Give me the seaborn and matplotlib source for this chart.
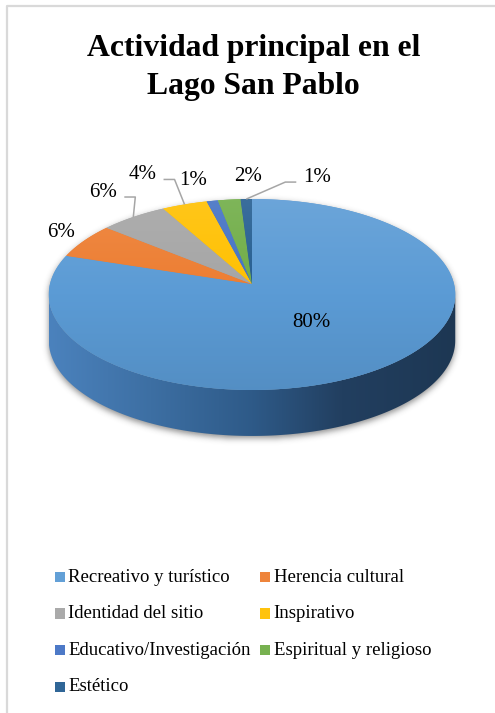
import numpy as np
import matplotlib
matplotlib.use("Agg")
import matplotlib.pyplot as plt
import seaborn as sns
from matplotlib.patches import Polygon, Rectangle
from matplotlib.path import Path
from matplotlib.colors import to_rgb

# ---- data -------------------------------------------------------------
categories = [
    "Recreativo y turístico",
    "Herencia cultural",
    "Identidad del sitio",
    "Inspirativo",
    "Educativo/Investigación",
    "Espiritual y religioso",
    "Estético",
]
values = [80, 6, 6, 4, 1, 2, 1]
pct_labels = ["80%", "6%", "6%", "4%", "1%", "2%", "1%"]
slice_colors = ["#5B9BD5", "#ED7D31", "#A5A5A5", "#FFC000",
                "#4472C4", "#70AD47", "#255E91"]
title_lines = ["Actividad principal en el", "Lago San Pablo"]

# ---- style --------------------------------------------------------------
sns.set_theme(style="white")
palette = sns.color_palette(slice_colors)
SERIF = ["Liberation Serif", "DejaVu Serif"]
plt.rcParams["font.family"] = SERIF

W, H = 495, 713
fig = plt.figure(figsize=(W / 100, H / 100), dpi=100)
ax = fig.add_axes([0, 0, 1, 1])
ax.set_xlim(0, W)
ax.set_ylim(H, 0)
ax.axis("off")

# chart-area frame (top and left edges visible)
ax.plot([6.5, 6.5, W + 5], [H + 5, 5.5, 5.5], color="#d9d9d9", lw=1.6,
        solid_capstyle="butt", zorder=1)

# ---- pie geometry (tilted disc with mild perspective) ---------------------
cx, cy = 252.0, 284.0      # projected centre of the top face
a, b = 202.0, 94.3          # semi-axes of the disc before perspective
k = 0.11                    # perspective strength (far side shrinks)
depth = 46.0                # thickness of the disc


def proj(theta, r=1.0):
    """Project polar position on the disc's top face to pixel coords."""
    x = r * np.cos(theta)
    y = r * np.sin(theta)
    s = 1.0 / (1.0 + k * y)
    return cx + a * x * s, cy - b * y * s


def gradient_image(stops, extent, vertical=False, n=400):
    pos = np.array([p for p, _ in stops], dtype=float)
    cols = np.array([to_rgb(c) for _, c in stops])
    t = np.linspace(pos[0], pos[-1], n)
    rgb = np.stack([np.interp(t, pos, cols[:, i]) for i in range(3)], axis=-1)
    img = rgb[:, None, :] if vertical else rgb[None, :, :]
    return ax.imshow(img, extent=extent, aspect="auto",
                     interpolation="bilinear", zorder=3)


def mix(c, target, f):
    c = np.array(to_rgb(c))
    return tuple(c + (np.array(to_rgb(target)) - c) * f)


fractions = np.array(values, dtype=float) / np.sum(values)
cum = np.concatenate([[0.0], np.cumsum(fractions)])
# slices run clockwise from 12 o'clock
start_ang = np.pi / 2 - 2 * np.pi * cum[:-1]
end_ang = np.pi / 2 - 2 * np.pi * cum[1:]
mid_ang = (start_ang + end_ang) / 2

# front wall of the disc (visible half)
t0 = np.pi + np.arcsin(k)
t1 = 2 * np.pi - np.arcsin(k)
tf = np.linspace(t0, t1, 300)
fx, fy = proj(tf)
side_xy = np.concatenate([np.column_stack([fx, fy]),
                          np.column_stack([fx[::-1], fy[::-1] + depth])])

# top face outline
tt = np.linspace(0, 2 * np.pi, 400)
tx, ty = proj(tt)
top_xy = np.column_stack([tx, ty])

# soft shadow around the disc
gx, gy = np.meshgrid(np.arange(W) + 0.5, np.arange(H) + 0.5)
pts = np.column_stack([gx.ravel(), gy.ravel()])
mask = (Path(side_xy + [0, 2.5]).contains_points(pts) |
        Path(top_xy + [0, 2.5]).contains_points(pts)).reshape(H, W).astype(float)
kern = np.exp(-0.5 * (np.arange(-9, 10) / 3.2) ** 2)
kern /= kern.sum()
blur = np.apply_along_axis(lambda v: np.convolve(v, kern, mode="same"), 0, mask)
blur = np.apply_along_axis(lambda v: np.convolve(v, kern, mode="same"), 1, blur)
shadow = np.zeros((H, W, 4))
shadow[..., :3] = 0.25
shadow[..., 3] = blur * 0.6
ax.imshow(shadow, extent=[0, W, H, 0], interpolation="bilinear", zorder=2)

# front wall with a left-to-right shading
xmin, xmax = side_xy[:, 0].min(), side_xy[:, 0].max()
side_patch = Polygon(side_xy, closed=True, facecolor="none", edgecolor="none")
ax.add_patch(side_patch)
im = gradient_image([(0.0, "#4b82bd"), (0.25, "#3d6fa3"), (0.5, "#2e5a88"),
                     (0.72, "#223f60"), (1.0, "#1d3753")],
                    extent=[xmin, xmax, side_xy[:, 1].max(), side_xy[:, 1].min()])
im.set_clip_path(side_patch)

# top face slices with a gentle top-to-bottom shading
ytop, ybot = ty.min(), ty.max()
for i, col in enumerate(palette):
    arc = np.linspace(start_ang[i], end_ang[i], max(8, int(400 * fractions[i])))
    ax_, ay_ = proj(arc)
    poly = np.vstack([[cx, cy], np.column_stack([ax_, ay_])])
    patch = Polygon(poly, closed=True, facecolor=col, edgecolor="none", zorder=4)
    ax.add_patch(patch)
    im = gradient_image([(0.0, mix(col, "white", 0.10)),
                         (0.5, col),
                         (1.0, mix(col, "black", 0.08))],
                        extent=[xmin, xmax, ybot, ytop], vertical=True)
    im.set_zorder(4.5)
    im.set_clip_path(patch)

# ---- data labels --------------------------------------------------------
label_offsets = [None, (-23, -8), (-30, -25), (-42, -30),
                 (-19, -20), (19, -23), (71, -22)]
has_leader = [False, False, True, True, False, False, True]
leader_col = "#a6a6a6"

for i, txt in enumerate(pct_labels):
    if label_offsets[i] is None:
        lx, ly = proj(mid_ang[i], r=0.48)
    else:
        axp, ayp = proj(mid_ang[i])
        lx, ly = axp + label_offsets[i][0], ayp + label_offsets[i][1]
        if has_leader[i]:
            side = 1 if label_offsets[i][0] < 0 else -1
            sx = lx + side * 21
            ex = sx + side * 11
            ax.plot([sx, ex, axp], [ly + 5, ly + 5, ayp], color=leader_col,
                    lw=1.1, zorder=6, solid_capstyle="butt")
    ax.text(lx, ly, txt, ha="center", va="center", fontsize=15,
            family=SERIF, color="#000000", zorder=7)

# ---- title -----------------------------------------------------------------
for line, base in zip(title_lines, [56, 94]):
    ax.text(253.5, base, line, ha="center", va="baseline", fontsize=22.8,
            fontweight="bold", family=SERIF, color="black", zorder=7)

# ---- legend (two columns, filled row by row) ---------------------------------
leg_x0, leg_dx = 54.5, 205.0
leg_y0, leg_dy = 577.0, 36.6
box = 10.5
for i, (name, col) in enumerate(zip(categories, palette)):
    row, column = divmod(i, 2)
    x = leg_x0 + column * leg_dx
    y = leg_y0 + row * leg_dy
    ax.add_patch(Rectangle((x, y - box / 2), box, box,
                           facecolor=mix(col, "white", 0.05), edgecolor="none", zorder=6))
    ax.text(x + box + 3.5, y, name, ha="left", va="center", fontsize=13.5,
            family=SERIF, color="black", zorder=7)

fig.savefig("out.png", dpi=100)
